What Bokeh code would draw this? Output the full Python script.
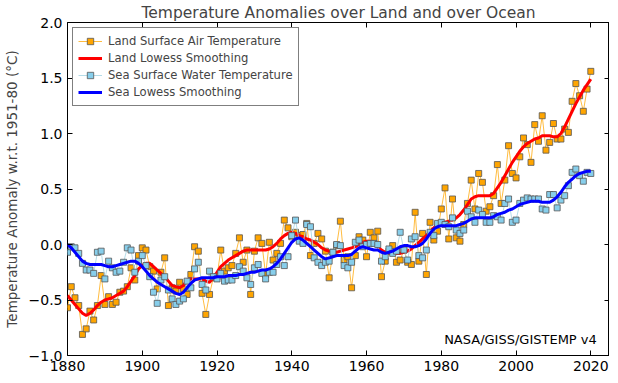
from bokeh.plotting import figure
from bokeh.models import Range1d, LinearAxis, Label, FixedTicker, Legend, LegendItem, PrintfTickFormatter
from bokeh.embed import file_html
from bokeh.resources import INLINE

years = list(range(1880, 2021))

land = [
    -0.57, -0.38, -0.48, -0.55, -0.81, -0.76, -0.60, -0.68, -0.55, -0.28,   # 1880s
    -0.54, -0.47, -0.54, -0.52, -0.43, -0.42, -0.38, -0.21, -0.32, -0.10,   # 1890s
    -0.03, -0.05, -0.20, -0.24, -0.40, -0.25, -0.12, -0.55, -0.39, -0.42,   # 1900s
    -0.34, -0.40, -0.45, -0.27, -0.02, -0.06, -0.44, -0.63, -0.45, -0.30,   # 1910s
    -0.29, -0.05, -0.24, -0.21, -0.19, -0.08, 0.06, -0.16, -0.05, -0.45,    # 1920s
    -0.06, 0.06, 0.01, -0.27, 0.02, -0.14, -0.08, 0.01, 0.22, 0.15,         # 1930s
    0.07, 0.11, 0.08, 0.09, 0.19, -0.10, 0.01, 0.10, 0.05, -0.06,           # 1940s
    -0.30, -0.07, -0.01, 0.21, -0.14, -0.11, -0.39, -0.10, 0.07, 0.04,      # 1950s
    -0.11, 0.11, 0.06, 0.12, -0.29, -0.15, -0.06, -0.01, -0.16, -0.14,      # 1960s
    -0.05, -0.16, -0.18, 0.29, -0.15, 0.10, -0.27, 0.20, 0.04, 0.12,        # 1970s
    0.32, 0.51, 0.05, 0.41, 0.06, 0.03, 0.18, 0.37, 0.58, 0.32,             # 1980s
    0.64, 0.56, 0.30, 0.34, 0.44, 0.72, 0.37, 0.58, 0.89, 0.64,             # 1990s
    0.60, 0.79, 0.96, 0.90, 0.74, 1.08, 0.93, 1.16, 0.85, 0.92,             # 2000s
    1.09, 0.95, 0.95, 1.04, 1.01, 1.29, 1.45, 1.34, 1.20, 1.40,             # 2010s
    1.56,                                                                   # 2020
]

land_lowess = [
    -0.46, -0.50, -0.54, -0.58, -0.62, -0.64, -0.62, -0.59, -0.55, -0.52,
    -0.50, -0.49, -0.48, -0.46, -0.44, -0.42, -0.38, -0.33, -0.28, -0.22,
    -0.19, -0.17, -0.17, -0.20, -0.23, -0.26, -0.29, -0.33, -0.37, -0.38,
    -0.39, -0.37, -0.32, -0.31, -0.31, -0.31, -0.31, -0.33, -0.34, -0.30,
    -0.25, -0.20, -0.17, -0.14, -0.12, -0.10, -0.08, -0.06, -0.05, -0.05,
    -0.05, -0.05, -0.05, -0.05, -0.04, -0.02, 0.01, 0.05, 0.08, 0.10,
    0.11, 0.10, 0.08, 0.07, 0.05, 0.04, 0.02, 0.00, -0.03, -0.05,
    -0.06, -0.07, -0.07, -0.06, -0.05, -0.04, -0.03, -0.02, 0.00, 0.02,
    0.03, 0.03, 0.01, -0.02, -0.05, -0.07, -0.08, -0.08, -0.08, -0.08,
    -0.07, -0.06, -0.04, -0.01, 0.02, 0.05, 0.08, 0.12, 0.15, 0.18,
    0.19, 0.20, 0.21, 0.22, 0.24, 0.27, 0.31, 0.36, 0.41, 0.43,
    0.44, 0.44, 0.44, 0.44, 0.46, 0.51, 0.56, 0.62, 0.68, 0.74,
    0.79, 0.84, 0.88, 0.91, 0.93, 0.95, 0.96, 0.98, 0.98, 0.98,
    0.97, 0.97, 1.00, 1.06, 1.13, 1.20, 1.27, 1.33, 1.39, 1.44,
    1.49,
]

sea = [
    -0.07, -0.02, -0.03, -0.08, -0.17, -0.23, -0.23, -0.26, -0.07, -0.06,
    -0.31, -0.15, -0.21, -0.25, -0.24, -0.16, -0.03, -0.05, -0.25, -0.15,
    -0.10, -0.19, -0.29, -0.43, -0.53, -0.32, -0.29, -0.41, -0.49, -0.54,
    -0.51, -0.49, -0.33, -0.39, -0.22, -0.16, -0.36, -0.41, -0.24, -0.29,
    -0.31, -0.26, -0.33, -0.32, -0.32, -0.28, -0.20, -0.24, -0.30, -0.36,
    -0.21, -0.18, -0.26, -0.31, -0.25, -0.25, -0.18, -0.11, -0.19, -0.11,
    0.08, 0.22, 0.03, 0.01, 0.18, 0.16, -0.12, -0.16, -0.19, -0.16,
    -0.15, -0.07, 0.00, -0.01, -0.19, -0.21, -0.16, 0.02, 0.04, -0.02,
    0.00, 0.01, 0.01, 0.00, -0.15, -0.11, -0.04, -0.08, -0.06, 0.11,
    -0.05, -0.14, 0.05, 0.07, -0.10, -0.12, -0.05, 0.11, 0.08, 0.19,
    0.20, 0.18, 0.16, 0.24, 0.13, 0.10, 0.13, 0.30, 0.25, 0.20,
    0.31, 0.27, 0.20, 0.20, 0.26, 0.25, 0.22, 0.37, 0.41, 0.20,
    0.22, 0.37, 0.40, 0.42, 0.41, 0.41, 0.41, 0.32, 0.31, 0.45,
    0.45, 0.33, 0.40, 0.44, 0.53, 0.65, 0.68, 0.62, 0.57, 0.65,
    0.64,
]

sea_lowess = [
    0.00, -0.03, -0.07, -0.11, -0.15, -0.17, -0.18, -0.18, -0.18, -0.18,
    -0.19, -0.20, -0.20, -0.19, -0.18, -0.17, -0.16, -0.15, -0.15, -0.17,
    -0.20, -0.24, -0.28, -0.31, -0.34, -0.36, -0.38, -0.40, -0.42, -0.44,
    -0.45, -0.43, -0.39, -0.35, -0.32, -0.31, -0.30, -0.30, -0.30, -0.30,
    -0.29, -0.29, -0.29, -0.28, -0.28, -0.28, -0.27, -0.27, -0.26, -0.25,
    -0.25, -0.24, -0.23, -0.23, -0.22, -0.20, -0.17, -0.13, -0.08, -0.03,
    0.02, 0.05, 0.06, 0.04, 0.01, -0.02, -0.05, -0.08, -0.11, -0.13,
    -0.12, -0.11, -0.10, -0.10, -0.10, -0.10, -0.09, -0.06, -0.03, -0.02,
    -0.03, -0.04, -0.05, -0.05, -0.07, -0.08, -0.07, -0.06, -0.04, -0.02,
    -0.01, -0.01, -0.02, -0.02, -0.01, 0.01, 0.05, 0.10, 0.14, 0.16,
    0.17, 0.17, 0.17, 0.17, 0.17, 0.18, 0.19, 0.21, 0.23, 0.24,
    0.24, 0.24, 0.24, 0.24, 0.25, 0.27, 0.28, 0.29, 0.31, 0.32,
    0.34, 0.36, 0.37, 0.38, 0.39, 0.39, 0.39, 0.38, 0.38, 0.38,
    0.40, 0.43, 0.47, 0.52, 0.56, 0.59, 0.62, 0.64, 0.65, 0.66,
    0.66,
]

x_ticks = [1880, 1900, 1920, 1940, 1960, 1980, 2000, 2020]
y_ticks = [-1.0, -0.5, 0.0, 0.5, 1.0, 1.5, 2.0]
y_labels = {-1.0: "\u22121.0", -0.5: "\u22120.5"}

title = "Temperature Anomalies over Land and over Ocean"
y_title = "Temperature Anomaly w.r.t. 1951-80 (\u00b0C)"
credit = "NASA/GISS/GISTEMP v4"

FONT = "DejaVu Sans"

p = figure(width=609, height=375, output_backend="svg", toolbar_location=None,
           x_range=Range1d(1880, 2025), y_range=Range1d(-1.0, 2.0),
           x_axis_location=None, y_axis_location=None,
           min_border_left=54, min_border_right=0, min_border_top=14, min_border_bottom=20)

p.title.text = title
p.title.text_font = FONT
p.title.text_font_size = "15.5px"
p.title.text_font_style = "normal"
p.title.align = "center"
p.title.offset = 0
p.title.standoff = 2

p.grid.visible = False
p.outline_line_color = "black"
p.outline_line_width = 1
p.background_fill_color = "white"
p.border_fill_color = "white"


def make_axis(loc, show_labels):
    ax = LinearAxis(ticker=FixedTicker(ticks=x_ticks if loc in ("below", "above") else y_ticks))
    ax.axis_line_color = None
    ax.major_tick_in = 5
    ax.major_tick_out = 0
    ax.major_tick_line_color = "black"
    ax.minor_tick_line_color = None
    ax.major_label_text_font = FONT
    if show_labels:
        ax.major_label_text_font_size = "14px"
        ax.major_label_text_color = "black"
        ax.major_label_standoff = 5
    else:
        ax.major_label_text_font_size = "1px"
        ax.major_label_text_color = None
        ax.major_label_standoff = 0
        ax.axis_label_standoff = 0
    return ax


bottom = make_axis("below", True)
left = make_axis("left", True)
left.formatter = PrintfTickFormatter(format="%.1f")
left.major_label_overrides = y_labels
left.axis_label = y_title
left.axis_label_text_font = FONT
left.axis_label_text_font_size = "13.5px"
left.axis_label_text_font_style = "normal"
left.axis_label_standoff = 6
top = make_axis("above", False)
right = make_axis("right", False)
p.add_layout(bottom, "below")
p.add_layout(left, "left")
p.add_layout(top, "above")
p.add_layout(right, "right")

r_land_line = p.line(years, land, line_color="orange", line_alpha=0.75, line_width=1)
r_land_pts = p.scatter(years, land, marker="square", size=6, fill_color="orange",
                       line_color="#555555", line_width=0.8)
r_land_low = p.line(years, land_lowess, line_color="red", line_width=3)
r_sea_line = p.line(years, sea, line_color="lightblue", line_alpha=0.9, line_width=1)
r_sea_pts = p.scatter(years, sea, marker="square", size=6, fill_color="skyblue",
                      line_color="#555555", line_width=0.8)
r_sea_low = p.line(years, sea_lowess, line_color="blue", line_width=3)

legend = Legend(items=[
    LegendItem(label="Land Surface Air Temperature", renderers=[r_land_line, r_land_pts]),
    LegendItem(label="Land Lowess Smoothing", renderers=[r_land_low]),
    LegendItem(label="Sea Surface Water Temperature", renderers=[r_sea_line, r_sea_pts]),
    LegendItem(label="Sea Lowess Smoothing", renderers=[r_sea_low]),
], location="top_left")
legend.margin = 5
legend.padding = 5
legend.spacing = 1
legend.label_height = 16
legend.glyph_height = 16
legend.glyph_width = 24
legend.label_standoff = 6
legend.label_text_font = FONT
legend.label_text_font_size = "11.6px"
legend.border_line_color = "black"
legend.border_line_width = 1
legend.background_fill_alpha = 1
p.add_layout(legend)

p.add_layout(Label(x=2021.6, y=-0.92, text=credit, text_align="right", text_baseline="bottom",
                   text_font=FONT, text_font_size="13px", text_color="black"))

open("out.html", "w").write(file_html(p, INLINE))
